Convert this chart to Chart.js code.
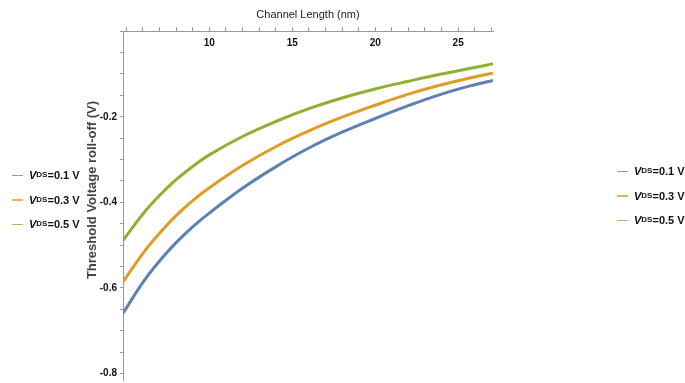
<!DOCTYPE html>
<html>
<head>
<meta charset="utf-8">
<script src="https://cdn.jsdelivr.net/npm/chart.js@4.4.0/dist/chart.umd.min.js"></script>
<style>
  body { margin: 0; background: #fff; }
  #wrap { position: relative; width: 685px; height: 383px; }
  #chart { position: absolute; left: 0; top: 0; }
  .legend { position: absolute; width: 70px; font: bold 11px 'Liberation Sans', Arial, sans-serif; color: #111; }
  .legend .row { height: 24.5px; display: flex; align-items: center; white-space: nowrap; }
  .legend .sw { display: inline-block; width: 11px; height: 1.5px; margin-right: 6px; }
  .legend sub { font-size: 8px; vertical-align: -2px; line-height: 0; }
</style>
</head>
<body>
<div id="wrap">
  <canvas id="chart" width="685" height="383"></canvas>
  <div class="legend" id="legend-left" style="left:12px; top:163px;"></div>
  <div class="legend" id="legend-right" style="left:617px; top:159px;"></div>
</div>
<script>
// channel length (nm)
const lengths = [4.8, 6, 7, 8, 9, 10, 12, 14, 16, 18, 20, 22, 24, 26, 27.1];
// threshold voltage roll-off (V)
const vds01 = [-0.659, -0.587, -0.537, -0.494, -0.457, -0.425, -0.367, -0.317, -0.273, -0.236, -0.204, -0.174, -0.147, -0.125, -0.115];
const vds03 = [-0.586, -0.519, -0.472, -0.431, -0.396, -0.366, -0.314, -0.270, -0.233, -0.201, -0.173, -0.147, -0.125, -0.107, -0.098];
const vds05 = [-0.489, -0.427, -0.384, -0.347, -0.316, -0.289, -0.246, -0.211, -0.181, -0.156, -0.135, -0.117, -0.100, -0.085, -0.076];

const seriesNames = ['0.1', '0.3', '0.5'];
const seriesColors = ['#5e81b5', '#e19c24', '#8fb032'];
const legendColors = ['#7d9bd0', '#eab060', '#9cc060'];
const seriesValues = [vds01, vds03, vds05];

const sans = "'Liberation Sans', Arial, sans-serif";

const datasets = seriesValues.map((vals, i) => ({
  label: 'VDS=' + seriesNames[i] + ' V',
  data: lengths.map((x, j) => ({ x: x, y: vals[j] })),
  borderColor: seriesColors[i],
  borderWidth: 3,
  pointRadius: 0,
  tension: 0.4,
  fill: false
}));

// html legends, left and right copies
['legend-left', 'legend-right'].forEach(id => {
  const box = document.getElementById(id);
  seriesNames.forEach((name, i) => {
    const row = document.createElement('div');
    row.className = 'row';
    row.innerHTML = '<span class="sw" style="background:' + legendColors[i] + '"></span>' +
      '<i>V</i><sub>DS</sub>=' + name + ' V';
    box.appendChild(row);
  });
});

// y axis label sits a bit above the middle in the original
const yLabel = {
  id: 'yLabel',
  afterDraw(chart) {
    const ctx = chart.ctx;
    ctx.save();
    ctx.translate(92, 190);
    ctx.rotate(-Math.PI / 2);
    ctx.font = 'bold 13px ' + sans;
    ctx.fillStyle = '#444';
    ctx.textAlign = 'center';
    ctx.textBaseline = 'middle';
    ctx.fillText('Threshold Voltage roll-off (V)', 0, 0);
    ctx.restore();
  }
};

new Chart(document.getElementById('chart'), {
  type: 'line',
  data: { datasets },
  plugins: [yLabel],
  options: {
    responsive: false,
    animation: false,
    layout: { padding: { left: 80, right: 192, top: 0, bottom: 3 } },
    plugins: {
      legend: { display: false },
      tooltip: { enabled: false },
      title: {
        display: true,
        text: 'Channel Length (nm)',
        fullSize: false,
        color: '#222',
        font: { family: sans, size: 11, weight: 'normal' },
        padding: { top: 8, bottom: 6 }
      }
    },
    scales: {
      // ticks and line of the top axis
      x: {
        type: 'linear',
        min: 4.8,
        max: 27.1,
        position: 'top',
        grid: { drawOnChartArea: false, color: '#999', tickLength: 4 },
        border: { color: '#999' },
        ticks: { stepSize: 1, includeBounds: false, autoSkip: false, display: false }
      },
      // labels hang below the axis line
      xLabels: {
        type: 'linear',
        axis: 'x',
        min: 4.8,
        max: 27.1,
        position: { y: 0 },
        grid: { display: false, drawTicks: false },
        border: { display: false },
        ticks: {
          stepSize: 1,
          includeBounds: false,
          autoSkip: false,
          maxRotation: 0,
          padding: 6,
          color: '#111',
          font: { family: sans, size: 10, weight: 'bold' },
          callback: v => (Math.abs(v % 5) < 1e-6 && Math.round(v) !== 5) ? String(Math.round(v)) : ''
        }
      },
      y: {
        min: -0.815,
        max: 0,
        afterFit: s => { s.width = 43; s.paddingTop = 0; s.paddingBottom = 0; },
        grid: { drawOnChartArea: false, color: '#999', tickLength: 3 },
        border: { color: '#999' },
        ticks: {
          stepSize: 0.05,
          includeBounds: false,
          autoSkip: false,
          padding: 3,
          color: '#111',
          font: { family: sans, size: 10, weight: 'bold' },
          callback: v => {
            const k = Math.round(v * 100);
            return (k % 20 === 0 && k !== 0) ? v.toFixed(1) : '';
          }
        }
      }
    }
  }
});
</script>
</body>
</html>
